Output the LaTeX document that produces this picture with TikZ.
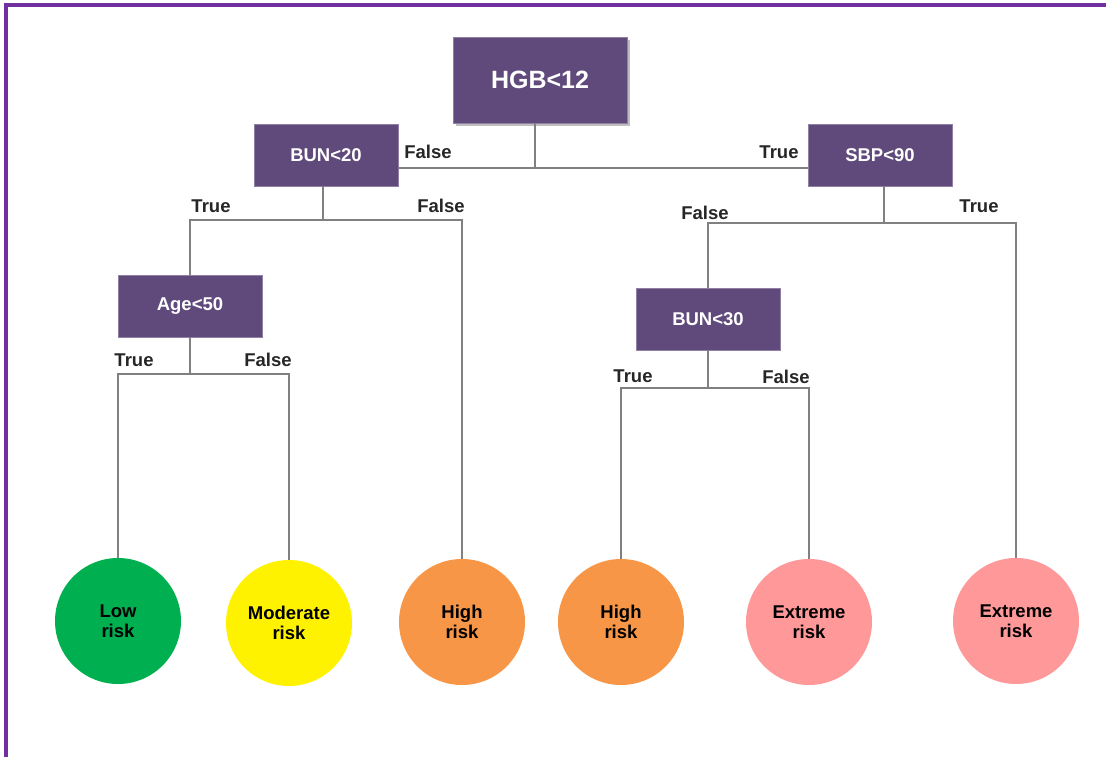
\documentclass[tikz,border=0pt]{standalone}
\usepackage{fontspec}
\setmainfont{Liberation Sans}
\usetikzlibrary{shadows}
\definecolor{boxpurple}{HTML}{604A7B}
\definecolor{framepurple}{HTML}{7030A0}
\definecolor{riskgreen}{HTML}{00B050}
\definecolor{riskorange}{HTML}{F79646}
\definecolor{riskpink}{HTML}{FF9999}
\tikzset{
    split-box/.style = {draw=boxpurple!70!white, fill=boxpurple, rectangle, text=white, font=\fontsize{18.5}{20}\selectfont\bfseries, minimum width=144pt, minimum height=62pt, inner sep=0pt},
    leaf-circle/.style = {circle, minimum size=126pt, inner sep=0pt, align=center, text=black, font=\fontsize{18.5}{20}\selectfont\bfseries},
    branch/.style = {draw=gray, line width=1.3pt},
    branch-label/.style = {text=black!85, font=\fontsize{18.5}{20}\selectfont\bfseries, inner sep=0pt},
}

\begin{document}
\begin{tikzpicture}[x=1pt, y=-1pt]
\useasboundingbox (0,0) rectangle (1106,757);
\draw[framepurple, line width=3.2pt] (6,757) -- (6,5) -- (1106,5);

% decision boxes
\node[split-box, minimum width=174pt, minimum height=86pt, font=\fontsize{25}{28}\selectfont\bfseries,
      drop shadow={opacity=0.5, fill=gray, shadow xshift=3pt, shadow yshift=-3pt}] (hgb) at (540,80) {HGB<12};
\node[split-box] (bun20) at (326,155) {BUN<20};
\node[split-box] (sbp) at (880,155) {SBP<90};
\node[split-box] (age) at (190,306) {Age<50};
\node[split-box] (bun30) at (708,319) {BUN<30};

% outcomes
\node[leaf-circle, fill=riskgreen] (low) at (118,621) {Low\\risk};
\node[leaf-circle, fill=yellow] (moderate) at (289,623) {Moderate\\risk};
\node[leaf-circle, fill=riskorange] (high1) at (462,622) {High\\risk};
\node[leaf-circle, fill=riskorange] (high2) at (621,622) {High\\risk};
\node[leaf-circle, fill=riskpink] (extreme1) at (809,622) {Extreme\\risk};
\node[leaf-circle, fill=riskpink] (extreme2) at (1016,621) {Extreme\\risk};

% junctions
\coordinate (j0) at (535,168);
\coordinate (j1) at (323,220);
\coordinate (j2) at (884,223);
\coordinate (j3) at (190,374);
\coordinate (j4) at (708,388);

\draw[branch] (hgb.south -| j0) -- (j0);
\draw[branch] (bun20.east |- j0) -- (sbp.west |- j0);
\draw[branch] (bun20.south -| j1) -- (j1);
\draw[branch] (age.north) |- (j1) -| (high1.north);
\draw[branch] (sbp.south -| j2) -- (j2);
\draw[branch] (bun30.north) |- (j2) -| (extreme2.north);
\draw[branch] (age.south) -- (j3);
\draw[branch] (low.north) |- (j3) -| (moderate.north);
\draw[branch] (bun30.south) -- (j4);
\draw[branch] (high2.north) |- (j4) -| (extreme1.north);

% branch labels
\node[branch-label] at (428,152) {False};
\node[branch-label] at (779,152) {True};
\node[branch-label] at (211,206) {True};
\node[branch-label] at (441,206) {False};
\node[branch-label] at (705,213) {False};
\node[branch-label] at (979,206) {True};
\node[branch-label] at (134,360) {True};
\node[branch-label] at (268,360) {False};
\node[branch-label] at (633,376) {True};
\node[branch-label] at (786,377) {False};
\end{tikzpicture}
\end{document}
